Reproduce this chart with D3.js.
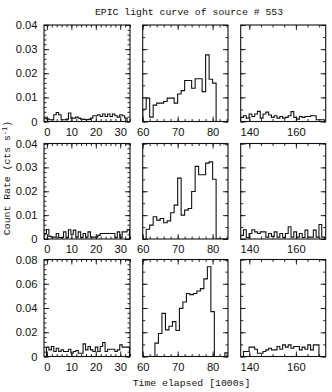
<!DOCTYPE html>
<html>
<head>
<meta charset="utf-8">
<script src="https://cdn.jsdelivr.net/npm/d3@7"></script>
<style>
  body { margin: 0; background: #fff; }
  text { fill: #111; }
</style>
</head>
<body>
<div id="chart"></div>
<script>
// light curves: time in 1000s, rate in cts/s, one array per panel (row = camera, col = time chunk)
const titleText = 'EPIC light curve of source # 553';
const xTitle = 'Time elapsed [1000s]';

const xDomains = [[-1.2, 34], [60, 84.4], [136.3, 172.8]];
const yMaxes = [0.04, 0.04, 0.08];

const xLabels = [[0, 10, 20, 30], [60, 70, 80], [140, 160]];
const yLabels = [[0, 0.01, 0.02, 0.03, 0.04], [0, 0.01, 0.02, 0.03, 0.04], [0, 0.02, 0.04, 0.06, 0.08]];

// bin starts and widths (1000s)
const binStarts = [[-1.2, 60, 136.3], [-1.2, 61, 136.3], [-1.2, 63.5, 136.3]];
const binWidths = [1.0, 1.0, 1.2];

// rates in units of 0.001 cts/s
const row1Left = [1.4, 1.1, 0.7, 0.7, 2.8, 3.7, 2.8, 0.7, 0.7, 1.0, 3.5, 1.4, 1.4, 1.8, 1.4, 1.0, 0.9, 0.7, 0.9, 1.4,
  2.4, 2.4, 2.8, 2.1, 3.1, 2.1, 3.1, 2.1, 3.1, 2.4, 1.8, 2.8, 2.4, 1.4];
const row1Mid = [5.1, 9.7, 1.8, 6.8, 7.6, 7.6, 8.3, 9.7, 9.7, 7.6, 11.4, 12.8, 17.0, 17.0, 13.8, 17.7, 17.7, 12.4,
  27.6, 17.5, 15.9, 0, 0, 0, 0];
const row1Right = [1.7, 2.4, 1.4, 3.1, 2.1, 3.1, 4.2, 1.4, 3.1, 3.9, 2.7, 1.7, 2.4, 1.4, 2.1, 1.4, 1.7, 2.4, 4.1, 1.7,
  1.0, 2.1, 1.7, 2.1, 2.1, 2.4, 2.4, 0.7, 0.7, 0.7];

const row2Left = [2.3, 4.0, 1.1, 0.8, 0.8, 2.3, 0.6, 0.6, 3.0, 0.6, 3.9, 2.0, 3.7, 0.8, 3.0, 0.6, 2.3, 0.8, 3.0, 0.8,
  0.8, 0.8, 1.5, 2.3, 2.3, 2.3, 2.3, 2.3, 2.3, 0.6, 3.0, 0.6, 3.0, 3.0, 3.9];
const row2Mid = [4.1, 5.8, 9.3, 7.9, 8.6, 6.8, 7.6, 11.0, 14.2, 25.5, 10.0, 12.1, 12.8, 19.9, 30.4, 26.9, 26.9, 31.8,
  32.3, 25.0, 0, 0, 0, 0];
const row2Right = [1.5, 3.9, 0.6, 2.3, 3.9, 3.0, 2.3, 3.0, 3.0, 0.8, 2.3, 1.1, 3.0, 0.8, 2.3, 0.6, 2.3, 5.1, 0.8, 3.0,
  0.8, 2.3, 0.6, 3.7, 0.8, 0.8, 3.7, 0.8, 6.1, 0.8];

const row3Left = [0, 7.7, 5.5, 8.2, 4.1, 6.8, 4.1, 5.5, 4.1, 4.1, 6.0, 2.7, 4.1, 4.9, 2.7, 2.7, 10.4, 5.5, 8.2, 5.5,
  4.1, 7.7, 4.1, 8.2, 11.5, 4.1, 6.0, 6.0, 6.0, 4.1, 5.5, 9.6, 7.7, 7.7, 7.7];
const row3Mid = [11, 19, 35.6, 22, 25, 28.8, 21.4, 39.7, 45, 52, 51, 52, 54, 56, 64, 74, 37, 0, 0, 0, 3.0];
const row3Right = [0, 4.1, 4.1, 7.7, 7.7, 6.0, 2.7, 2.7, 4.1, 5.5, 6.8, 5.5, 5.5, 8.2, 6.0, 9.6, 7.7, 9.6, 6.8, 8.2,
  8.2, 5.5, 7.7, 6.0, 9.6, 5.5, 9.6, 9.6, 0, 0, 0];

const curves = [
  [row1Left, row1Mid, row1Right],
  [row2Left, row2Mid, row2Right],
  [row3Left, row3Mid, row3Right]
];

// layout
const colX = [[44, 130], [142.7, 228], [240.7, 325.7]];
const rowY = [[25, 121.5], [143.5, 239], [259.5, 356.5]];
const ink = '#111';

const svg = d3.select('#chart')
  .append('svg')
  .attr('width', 332)
  .attr('height', 392);

const defs = svg.append('defs');

function minorRange(lo, hi, step) {
  return d3.range(Math.ceil(lo / step - 1e-9) * step, hi + 1e-9, step);
}

curves.forEach((row, r) => {
  row.forEach((vals, c) => {
    const x = d3.scaleLinear().domain(xDomains[c]).range(colX[c]);
    const y = d3.scaleLinear().domain([0, yMaxes[r]]).range([rowY[r][1], rowY[r][0]]);
    const g = svg.append('g');

    const [x0, x1] = colX[c];
    const [yTop, yBot] = rowY[r];

    // minor / major tick sets
    const xMinorStep = c === 2 ? 5 : 2;
    const xMajor = c === 2 ? minorRange(xDomains[c][0], xDomains[c][1], 20) : minorRange(xDomains[c][0], xDomains[c][1], 10);
    const xMinor = minorRange(xDomains[c][0], xDomains[c][1], xMinorStep);
    const yMajorStep = r === 2 ? 0.02 : 0.01;
    const yMinorStep = c === 0 ? yMajorStep / 5 : yMajorStep / 2;
    const yMajor = minorRange(0, yMaxes[r], yMajorStep);
    const yMinor = minorRange(0, yMaxes[r], yMinorStep);

    const fmtY = d => d < 1e-9 ? '0' : d.toFixed(2);

    // x axes (bottom with labels, top without)
    g.append('g').attr('transform', `translate(0,${yBot})`)
      .call(d3.axisBottom(x).tickValues(xMinor).tickSize(-2.5).tickFormat(''));
    g.append('g').attr('transform', `translate(0,${yBot})`)
      .call(d3.axisBottom(x).tickValues(xMajor).tickSize(-5).tickFormat(''));
    g.append('g').attr('transform', `translate(0,${yBot})`)
      .call(d3.axisBottom(x).tickValues(xLabels[c]).tickSize(0).tickPadding(6.5).tickFormat(d3.format('d')));
    g.append('g').attr('transform', `translate(0,${yTop})`)
      .call(d3.axisTop(x).tickValues(xMinor).tickSize(-2.5).tickFormat(''));
    g.append('g').attr('transform', `translate(0,${yTop})`)
      .call(d3.axisTop(x).tickValues(xMajor).tickSize(-5).tickFormat(''));

    // y axes
    g.append('g').attr('transform', `translate(${x0},0)`)
      .call(d3.axisLeft(y).tickValues(yMinor).tickSize(-2.5).tickFormat(''));
    g.append('g').attr('transform', `translate(${x0},0)`)
      .call(d3.axisLeft(y).tickValues(yMajor).tickSize(-5).tickFormat(''));
    g.append('g').attr('transform', `translate(${x1},0)`)
      .call(d3.axisRight(y).tickValues(yMinor).tickSize(-2.5).tickFormat(''));
    g.append('g').attr('transform', `translate(${x1},0)`)
      .call(d3.axisRight(y).tickValues(yMajor).tickSize(-5).tickFormat(''));
    if (c === 0) {
      g.append('g').attr('transform', `translate(${x0},0)`)
        .call(d3.axisLeft(y).tickValues(yLabels[r]).tickSize(0).tickPadding(6.5).tickFormat(fmtY));
    }

    g.selectAll('.domain').remove();
    g.selectAll('.tick line').attr('stroke', ink).attr('stroke-width', 0.9);
    g.selectAll('.tick text')
      .attr('font-family', '"Liberation Sans", Arial, sans-serif')
      .attr('font-size', 11.2)
      .attr('fill', '#111');

    // histogram
    const clipId = `clip${r}${c}`;
    defs.append('clipPath').attr('id', clipId)
      .append('rect').attr('x', x0).attr('y', yTop).attr('width', x1 - x0).attr('height', yBot - yTop);

    const start = binStarts[r][c];
    const w = binWidths[c];
    const pts = [[start, 0]];
    vals.forEach((v, i) => pts.push([start + i * w, v / 1000]));
    pts.push([start + vals.length * w, vals[vals.length - 1] / 1000]);
    pts.push([start + vals.length * w, 0]);

    const line = d3.line()
      .x(d => x(d[0]))
      .y(d => y(d[1]))
      .curve(d3.curveStepAfter);

    g.append('path')
      .datum(pts)
      .attr('clip-path', `url(#${clipId})`)
      .attr('d', line)
      .attr('fill', 'none')
      .attr('stroke', ink)
      .attr('stroke-width', 1.1);

    // frame
    g.append('rect')
      .attr('x', x0).attr('y', yTop)
      .attr('width', x1 - x0).attr('height', yBot - yTop)
      .attr('fill', 'none')
      .attr('stroke', ink)
      .attr('stroke-width', 1.1);
  });
});

const mono = '"Liberation Mono", "DejaVu Sans Mono", monospace';

svg.append('text')
  .attr('x', 189)
  .attr('y', 14.5)
  .attr('text-anchor', 'middle')
  .attr('font-family', mono)
  .attr('font-size', 9.8)
  .text(titleText);

svg.append('text')
  .attr('x', 191.5)
  .attr('y', 386)
  .attr('text-anchor', 'middle')
  .attr('font-family', mono)
  .attr('font-size', 9.8)
  .text(xTitle);

const yTitle = svg.append('text')
  .attr('transform', 'translate(10,178) rotate(-90)')
  .attr('text-anchor', 'middle')
  .attr('font-family', mono)
  .attr('font-size', 9.8);
yTitle.append('tspan').text('Count Rate (cts s');
yTitle.append('tspan').attr('dy', -3.5).attr('font-size', 7).text('-1');
yTitle.append('tspan').attr('dy', 3.5).text(')');
</script>
</body>
</html>
